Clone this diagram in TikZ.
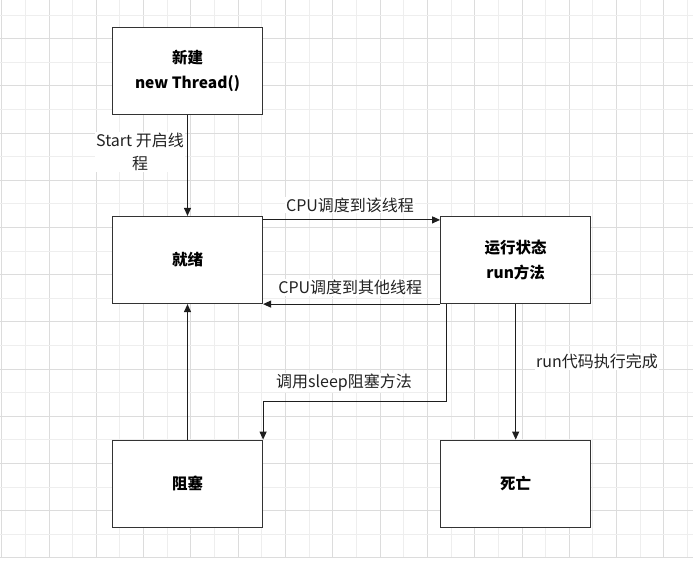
\documentclass[tikz,border=0pt]{standalone}
\usepackage{fontspec}
\setmainfont{Noto Sans CJK SC}
\usepackage{tikz}
\usetikzlibrary{arrows.meta}

\definecolor{gridlight}{HTML}{EEEEEE}
\definecolor{griddark}{HTML}{DCDCDC}
\definecolor{edgeline}{HTML}{1E1E1E}
\definecolor{boxline}{HTML}{333333}
\definecolor{labeltext}{HTML}{222222}

\tikzset{
  state/.style={draw=boxline, fill=white, line width=1.2pt,
                minimum width=150pt, minimum height=87pt, align=center,
                font=\fontsize{15.5}{25}\selectfont\bfseries},
  flow/.style={draw=edgeline, line width=1.05pt,
               -{Triangle[length=8pt,width=7pt]}},
  lbl/.style={fill=white, inner sep=1pt, align=center, text=labeltext,
              font=\fontsize{16}{23.3}\selectfont}
}

\begin{document}
\begin{tikzpicture}[x=1pt,y=-1pt]
  \useasboundingbox (0,0) rectangle (693,571);
  \fill[white] (0,0) rectangle (693,571);

  % background grid
  \foreach \k in {0,...,29}{
    \pgfmathsetmacro{\gx}{1.7+23.65*\k}
    \ifodd\k \def\gc{gridlight}\else \def\gc{griddark}\fi
    \draw[\gc, line width=1pt] (\gx,0) -- (\gx,557.7);
  }
  \foreach \k in {0,...,23}{
    \pgfmathsetmacro{\gy}{15+23.6*\k}
    \ifodd\k \def\gc{griddark}\else \def\gc{gridlight}\fi
    \draw[\gc, line width=1pt] (0,\gy) -- (693,\gy);
  }

  % states
  \node[state] (new)   at (187.5,71.3)  {新建\\new Thread()};
  \node[state] (ready) at (187.5,260)   {就绪};
  \node[state] (run)   at (515.7,260)   {运行状态\\run方法};
  \node[state] (block) at (187.5,483.7) {阻塞};
  \node[state] (dead)  at (515.7,483.7) {死亡};

  % transitions
  \draw[flow] (new) -- (ready);
  \draw[flow] ([yshift=-4pt]ready.north east) -- ([yshift=-4pt]run.north west);
  \draw[flow] (run.south west) -- (ready.south east);
  \draw[flow] ([xshift=6pt]run.south west) -- ++(0,97) -| (block.north east);
  \draw[flow] (run) -- (dead);
  \draw[flow] (block) -- (ready);

  % labels
  \node[lbl] (lblstart) at (140,152)   {Start 开启线\\程};
  \node[lbl] (lblto)    at (350,205)   {CPU调度到该线程};
  \node[lbl] (lblback)  at (350.3,287.3) {CPU调度到其他线程};
  \node[lbl] (lblsleep) at (344,382.7) {调用sleep阻塞方法};
  \node[lbl] (lbldone)  at (597,361.7) {run代码执行完成};
\end{tikzpicture}
\end{document}
